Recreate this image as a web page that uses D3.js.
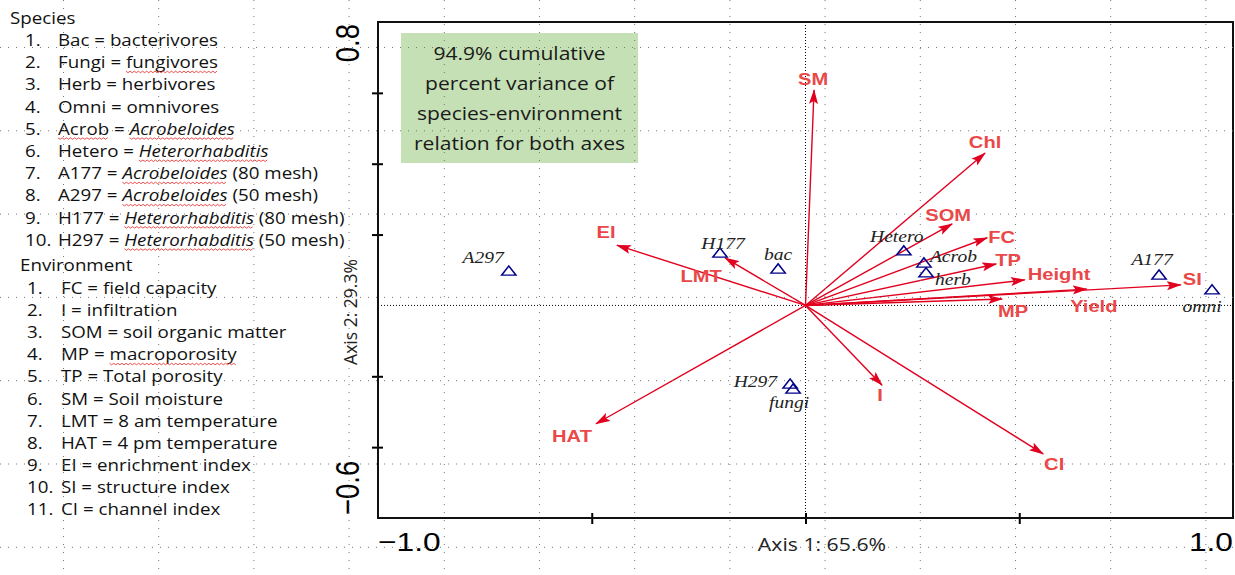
<!DOCTYPE html>
<html>
<head>
<meta charset="utf-8">
<script src="https://cdn.jsdelivr.net/npm/d3@7"></script>
<style>
  body { margin: 0; background: #fff; }
  svg { display: block; }
</style>
</head>
<body>
<div id="chart"></div>
<script>
// species scores (blue triangles)
const speciesNames = ["A297", "H177", "bac", "Hetero", "Acrob", "herb", "A177", "omni", "H297", "fungi"];
const speciesX = [-0.694, -0.200, -0.064, 0.230, 0.277, 0.282, 0.827, 0.951, -0.036, -0.029];
const speciesY = [0.094, 0.145, 0.100, 0.151, 0.117, 0.089, 0.083, 0.041, -0.225, -0.239];

// environment biplot arrows (red)
const envNames = ["SM", "Chl", "SOM", "FC", "TP", "Height", "SI", "Yield", "MP", "EI", "LMT", "HAT", "I", "CI"];
const envX = [0.020, 0.420, 0.343, 0.425, 0.446, 0.513, 0.878, 0.658, 0.460, -0.441, -0.188, -0.490, 0.179, 0.556];
const envY = [0.608, 0.430, 0.230, 0.191, 0.117, 0.072, 0.058, 0.046, 0.018, 0.170, 0.134, -0.334, -0.225, -0.419];

const xTicks = [-1, -0.5, 0, 0.5, 1];
const yTicks = [-0.6, -0.4, -0.2, 0, 0.2, 0.4, 0.6, 0.8];
const xTitle = "Axis 1: 65.6%";
const yTitle = "Axis 2: 29.3%";
const noteLines = ["94.9% cumulative", "percent variance of", "species-environment", "relation for both axes"];

// legend text: [text, flags] where i = italic, u = spell-check underline
const speciesLegend = [
  [["Bac = bacterivores"]],
  [["Fungi = "], ["fungivores", "u"]],
  [["Herb = herbivores"]],
  [["Omni = omnivores"]],
  [["Acrob", "u"], [" = "], ["Acrobeloides", "iu"]],
  [["Hetero = "], ["Heterorhabditis", "iu"]],
  [["A177 = "], ["Acrobeloides", "iu"], [" (80 mesh)"]],
  [["A297 = "], ["Acrobeloides", "iu"], [" (50 mesh)"]],
  [["H177 = "], ["Heterorhabditis", "iu"], [" (80 mesh)"]],
  [["H297 = "], ["Heterorhabditis", "iu"], [" (50 mesh)"]]
];
const envLegend = [
  [["FC = field capacity"]],
  [["I = infiltration"]],
  [["SOM = soil organic matter"]],
  [["MP = "], ["macroporosity", "u"]],
  [["TP = Total porosity"]],
  [["SM = Soil moisture"]],
  [["LMT = 8 am temperature"]],
  [["HAT = 4 pm temperature"]],
  [["EI = enrichment index"]],
  [["SI = structure index"]],
  [["CI = channel index"]]
];

// label placement: anchor, dx, dy (pixels from the mark)
const speciesLabelPos = {
  A297: ["end", -5, -9], H177: ["middle", 3, -5], bac: ["middle", 0, -10],
  Hetero: ["middle", -7, -10], Acrob: ["start", 6, -2], herb: ["start", 9, 11],
  A177: ["middle", -7, -11], omni: ["middle", -10, 21], H297: ["end", -13, 2],
  fungi: ["middle", -4, 18]
};
const envLabelPos = {
  SM: ["middle", -1, -5], Chl: ["middle", 0, -5], SOM: ["middle", -4, -3],
  FC: ["start", 1, 5], TP: ["start", -1, 2], Height: ["start", 3, 0],
  SI: ["start", 2, 0], Yield: ["middle", 7, 23], MP: ["middle", 11, 18],
  EI: ["middle", -11, -7], LMT: ["middle", -24, 24], HAT: ["middle", -24, 18],
  I: ["middle", -2, 16], CI: ["middle", 11, 16]
};

const W = 1235, H = 575;
const plotL = 378, plotR = 1233, plotT = 22, plotB = 518;
const stretch = 1.22;   // chart image is stretched horizontally
const textStretch = 1.15;
const arrowRed = "#E2001F", labelRed = "#EA4848", navy = "#000088";

const svg = d3.select("#chart").append("svg")
  .attr("width", W)
  .attr("height", H);

const x = d3.scaleLinear().domain([-1, 1]).range([plotL, plotR]);
const y = d3.scaleLinear().domain([-0.6, 0.8]).range([plotB, plotT]);

// green note box
svg.append("rect")
  .attr("x", 401).attr("y", 33)
  .attr("width", 237).attr("height", 130)
  .attr("fill", "#C5E0B4");
svg.append("g")
  .selectAll("text")
  .data(noteLines)
  .join("text")
  .attr("transform", (d, i) => `translate(519.5,${60 + i * 30}) scale(${textStretch + 0.02},1)`)
  .attr("text-anchor", "middle")
  .attr("font-family", "'Open Sans', sans-serif")
  .attr("font-size", 18)
  .attr("fill", "#1a1a1a")
  .text(d => d);

// zero lines
svg.append("line")
  .attr("x1", x(0)).attr("x2", x(0))
  .attr("y1", plotT).attr("y2", plotB)
  .attr("stroke", "#000").attr("stroke-dasharray", "1,2");
svg.append("line")
  .attr("x1", plotL).attr("x2", plotR)
  .attr("y1", y(0)).attr("y2", y(0))
  .attr("stroke", "#000").attr("stroke-dasharray", "1,2");

// axes (ticks only), then the frame
const gx = svg.append("g")
  .attr("transform", `translate(0,${plotB})`)
  .call(d3.axisBottom(x).tickValues(xTicks.slice(1, -1)).tickSize(6).tickSizeOuter(0).tickFormat(""));
gx.selectAll(".tick line").attr("y1", -5).attr("stroke-width", 2);
gx.select(".domain").remove();

const gy = svg.append("g")
  .attr("transform", `translate(${plotL},0)`)
  .call(d3.axisLeft(y).tickValues(yTicks.slice(1, -1).filter(v => v !== 0)).tickSize(6).tickSizeOuter(0).tickFormat(""));
gy.selectAll(".tick line").attr("x1", 5).attr("stroke-width", 2);
gy.select(".domain").remove();

svg.append("rect")
  .attr("x", plotL).attr("y", plotT)
  .attr("width", plotR - plotL).attr("height", plotB - plotT)
  .attr("fill", "none")
  .attr("stroke", "#111")
  .attr("stroke-width", 2);

// end labels of the axes
const endFont = "'Liberation Sans', Arial, sans-serif";
svg.append("text")
  .attr("transform", `translate(${x(xTicks[0])},551) scale(${stretch},1)`)
  .attr("font-family", endFont).attr("font-size", 26)
  .text(d3.format(".1f")(xTicks[0]));
svg.append("text")
  .attr("transform", `translate(${x(xTicks[xTicks.length - 1])},551) scale(${stretch},1)`)
  .attr("text-anchor", "end")
  .attr("font-family", endFont).attr("font-size", 26)
  .text(d3.format(".1f")(xTicks[xTicks.length - 1]));
svg.append("text")
  .attr("transform", `translate(359,${y(yTicks[yTicks.length - 1]) + 2}) scale(${stretch},1) rotate(-90)`)
  .attr("text-anchor", "end")
  .attr("font-family", endFont).attr("font-size", 27.5)
  .text(d3.format(".1f")(yTicks[yTicks.length - 1]));
svg.append("text")
  .attr("transform", `translate(359,${y(yTicks[0]) - 3}) scale(${stretch},1) rotate(-90)`)
  .attr("font-family", endFont).attr("font-size", 27.5)
  .text(d3.format(".1f")(yTicks[0]));

// axis titles
svg.append("text")
  .attr("transform", `translate(822,551) scale(1.18,1)`)
  .attr("text-anchor", "middle")
  .attr("font-family", "'Open Sans', sans-serif").attr("font-size", 18)
  .attr("fill", "#222")
  .text(xTitle);
svg.append("text")
  .attr("transform", `translate(357,312) rotate(-90)`)
  .attr("text-anchor", "middle")
  .attr("font-family", "'Open Sans', sans-serif").attr("font-size", 17.5)
  .attr("fill", "#222")
  .text(yTitle);

// arrowhead
svg.append("defs").append("marker")
  .attr("id", "head")
  .attr("viewBox", "0 -5 15 10")
  .attr("refX", 14).attr("refY", 0)
  .attr("markerWidth", 15).attr("markerHeight", 10)
  .attr("markerUnits", "userSpaceOnUse")
  .attr("orient", "auto")
  .append("path")
  .attr("d", "M0,-4.5L15,0L0,4.5L3,0Z")
  .attr("fill", arrowRed);

const env = envNames.map((n, i) => ({ name: n, x: envX[i], y: envY[i] }));
const species = speciesNames.map((n, i) => ({ name: n, x: speciesX[i], y: speciesY[i] }));

svg.append("g")
  .selectAll("line")
  .data(env)
  .join("line")
  .attr("x1", x(0)).attr("y1", y(0))
  .attr("x2", d => x(d.x)).attr("y2", d => y(d.y))
  .attr("stroke", arrowRed)
  .attr("stroke-width", 1.4)
  .attr("marker-end", "url(#head)");

svg.append("g")
  .selectAll("text")
  .data(env)
  .join("text")
  .attr("transform", d => {
    const p = envLabelPos[d.name];
    return `translate(${x(d.x) + p[1]},${y(d.y) + p[2]}) scale(${stretch},1)`;
  })
  .attr("text-anchor", d => envLabelPos[d.name][0])
  .attr("font-family", "'Liberation Sans', Arial, sans-serif")
  .attr("font-weight", "bold")
  .attr("font-size", 16.5)
  .attr("fill", labelRed)
  .text(d => d.name);

// species triangles and labels
svg.append("g")
  .selectAll("path")
  .data(species)
  .join("path")
  .attr("transform", d => `translate(${x(d.x)},${y(d.y)}) scale(${stretch},0.9)`)
  .attr("d", d3.symbol(d3.symbolTriangle, 60))
  .attr("fill", "none")
  .attr("stroke", navy)
  .attr("stroke-width", 1.4);

svg.append("g")
  .selectAll("text")
  .data(species)
  .join("text")
  .attr("transform", d => {
    const p = speciesLabelPos[d.name];
    return `translate(${x(d.x) + p[1]},${y(d.y) + p[2]}) scale(1.15,1)`;
  })
  .attr("text-anchor", d => speciesLabelPos[d.name][0])
  .attr("font-family", "'Liberation Serif', 'Times New Roman', serif")
  .attr("font-style", "italic")
  .attr("font-size", 17)
  .attr("fill", "#222")
  .text(d => d.name);

// left-hand legend
function drawLegend(title, items, titleX, titleY, numX, textX, firstY, step) {
  const g = svg.append("g")
    .attr("font-family", "'Open Sans', sans-serif")
    .attr("font-size", 16.3)
    .attr("fill", "#111");
  g.append("text")
    .attr("transform", `translate(${titleX},${titleY}) scale(${textStretch},1)`)
    .text(title);
  items.forEach((segs, i) => {
    const yy = firstY + i * step;
    g.append("text")
      .attr("transform", `translate(${numX},${yy}) scale(${textStretch},1)`)
      .text((i + 1) + ".");
    const row = g.append("g")
      .attr("transform", `translate(${textX},${yy}) scale(${textStretch},1)`);
    const t = row.append("text");
    segs.forEach(s => {
      const flags = s[1] || "";
      const ts = t.append("tspan")
        .attr("font-style", flags.includes("i") ? "italic" : null)
        .attr("xml:space", "preserve")
        .text(s[0]);
      if (flags.includes("u")) {
        const node = ts.node();
        const x0 = node.getStartPositionOfChar(0).x;
        const w = node.getComputedTextLength();
        const pts = d3.range(0, w + 0.1, 1.8).map((d, k) => [x0 + d, 3 + (k % 2 ? 1.5 : 0)]);
        row.append("path")
          .attr("d", d3.line()(pts))
          .attr("fill", "none")
          .attr("stroke", "#E83030")
          .attr("stroke-width", 0.8);
      }
    });
  });
}
drawLegend("Species", speciesLegend, 10, 24, 25, 58, 46, 22.2);
drawLegend("Environment", envLegend, 20, 271, 27, 61, 294, 22.1);

// background drawing grid (dotted, over the whole picture)
const gridG = svg.append("g")
  .attr("stroke", "#777")
  .attr("stroke-width", 1)
  .attr("stroke-dasharray", "1,7");
gridG.selectAll("line.v")
  .data(d3.range(13))
  .join("line")
  .attr("class", "v")
  .attr("x1", k => 63.5 + k * 95.2).attr("x2", k => 63.5 + k * 95.2)
  .attr("y1", 0).attr("y2", H);
gridG.selectAll("line.h")
  .data(d3.range(7))
  .join("line")
  .attr("class", "h")
  .attr("x1", 0).attr("x2", W)
  .attr("y1", k => 47.5 + k * 83.3).attr("y2", k => 47.5 + k * 83.3);
</script>
</body>
</html>
